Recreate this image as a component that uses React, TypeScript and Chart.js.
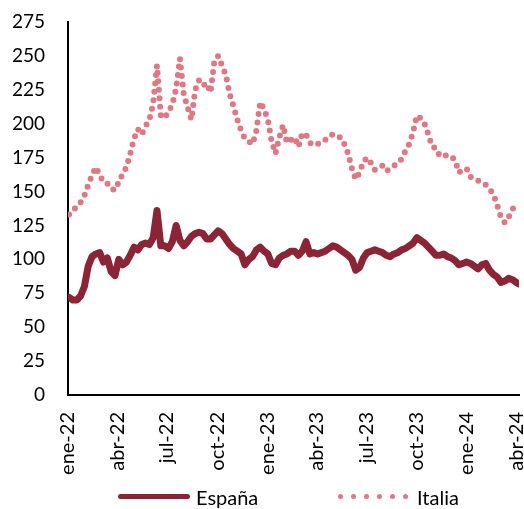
import React, { useEffect, useRef } from "react";
import { Chart, registerables } from "chart.js";

Chart.register(...registerables);

// Days counted from 2022-01-01; weekly observations starting Monday 2022-01-03
const firstDay = 2;
const stepDays = 7;
const lastDay = 825;

const espana = [
  72, 70, 70, 73, 80, 95, 102, 104, 105, 98,
  101, 91, 88, 100, 96, 98, 103, 109, 107, 111,
  112, 111, 116, 136, 110, 110, 108, 113, 125, 114,
  110, 113, 117, 119, 120, 119, 115, 115, 118, 121,
  119, 115, 111, 108, 106, 104, 96, 100, 102, 107,
  109, 106, 104, 97, 96, 101, 103, 104, 106, 106,
  103, 106, 113, 104, 105, 104, 105, 106, 108, 110,
  109, 107, 105, 103, 100, 92, 94, 101, 105, 106,
  107, 106, 105, 103, 102, 104, 105, 107, 108, 110,
  112, 116, 114, 112, 109, 106, 103, 103, 104, 102,
  101, 99, 96, 97, 98, 97, 95, 93, 96, 97,
  92, 89, 87, 83, 84, 86, 85, 83,
];
const espanaLast = 82;

const italia = [
  133, 136, 139, 142, 147, 155, 162, 168, 162, 157,
  156, 152, 151, 157, 163, 168, 178, 189, 196, 192,
  198, 203, 215, 243, 206, 204, 209, 214, 226, 248,
  222, 212, 203, 225, 232, 228, 230, 223, 246, 250,
  243, 236, 222, 213, 203, 195, 189, 187, 185, 195,
  216, 211, 203, 187, 178, 190, 199, 186, 188, 190,
  183, 193, 192, 186, 184, 185, 186, 188, 191, 192,
  190, 190, 185, 178, 167, 159, 164, 172, 175, 171,
  166, 168, 169, 165, 167, 169, 171, 174, 180, 185,
  194, 206, 204, 200, 192, 183, 182, 176, 176, 177,
  176, 173, 164, 166, 167, 161, 159, 158, 157, 155,
  152, 148, 140, 131, 127, 131, 137, 140,
];
const italiaLast = 138;

const tickDays = [0, 90, 181, 273, 365, 455, 546, 638, 730, 821];
const tickLabels = [
  "ene-22", "abr-22", "jul-22", "oct-22", "ene-23",
  "abr-23", "jul-23", "oct-23", "ene-24", "abr-24",
];

const yMax = 275;
const yStep = 25;

const COLOR_ES = "#8B2434";
const COLOR_IT = "#E07883";
const FONT = "Lato, 'Open Sans', sans-serif";

function toPoints(values: number[], last: number) {
  const pts = values.map((v, i) => ({ x: firstDay + stepDays * i, y: v }));
  pts.push({ x: lastDay, y: last });
  return pts;
}

export default function App() {
  const ref = useRef<HTMLCanvasElement | null>(null);

  useEffect(() => {
    if (!ref.current) return;
    const chart = new Chart(ref.current, {
      type: "line",
      data: {
        datasets: [
          {
            label: "España",
            data: toPoints(espana, espanaLast),
            borderColor: COLOR_ES,
            backgroundColor: COLOR_ES,
            borderWidth: 7,
            borderJoinStyle: "round",
            borderCapStyle: "round",
            pointRadius: 0,
            tension: 0,
          },
          {
            label: "Italia",
            data: toPoints(italia, italiaLast),
            borderColor: COLOR_IT,
            backgroundColor: COLOR_IT,
            borderWidth: 6,
            borderDash: [0, 8.5],
            borderCapStyle: "round",
            borderJoinStyle: "round",
            pointRadius: 0,
            tension: 0,
          },
        ],
      },
      options: {
        animation: false,
        responsive: false,
        devicePixelRatio: 1,
        layout: { padding: { top: 22, right: 5, bottom: 0, left: 0 } },
        plugins: {
          legend: { display: false },
          tooltip: { enabled: false },
        },
        scales: {
          x: {
            type: "linear",
            min: 0,
            max: lastDay + 1,
            grid: { display: false, drawTicks: false },
            border: { display: true, color: "#000", width: 2 },
            afterBuildTicks: (scale: any) => {
              scale.ticks = tickDays.map((d) => ({ value: d }));
            },
            afterFit: (scale: any) => {
              scale.height = 114;
              scale.paddingLeft = 0;
              scale.paddingRight = 0;
            },
            ticks: {
              autoSkip: false,
              minRotation: 90,
              maxRotation: 90,
              padding: 17,
              color: "#000",
              font: { family: FONT, size: 20 },
              callback: (_v: any, i: number) => tickLabels[i],
            },
          },
          y: {
            type: "linear",
            min: 0,
            max: yMax,
            grid: { display: false, drawTicks: false },
            border: { display: true, color: "#000", width: 2 },
            afterFit: (scale: any) => {
              scale.width = 68;
              scale.paddingTop = 0;
              scale.paddingBottom = 0;
            },
            ticks: {
              stepSize: yStep,
              padding: 23,
              color: "#000",
              font: { family: FONT, size: 19 },
            },
          },
        },
      } as any,
    });
    return () => chart.destroy();
  }, []);

  const dots = [0, 1, 2, 3, 4, 5];

  return (
    <div style={{ position: "absolute", left: 0, top: 0, width: 524, height: 509, background: "#fff" }}>
      <canvas ref={ref} width={524} height={509} style={{ width: 524, height: 509, display: "block" }} />
      <div
        style={{
          position: "absolute", left: 118, top: 494, width: 72, height: 5,
          background: COLOR_ES, borderRadius: 2.5,
        }}
      />
      <span
        style={{
          position: "absolute", left: 196, top: 484, fontFamily: FONT, fontSize: 20,
          lineHeight: "26px", color: "#000", whiteSpace: "nowrap",
        }}
      >
        España
      </span>
      {dots.map((k) => (
        <div
          key={k}
          style={{
            position: "absolute", left: 340 + 13 * k - 2.5, top: 494, width: 5, height: 5,
            borderRadius: "50%", background: COLOR_IT,
          }}
        />
      ))}
      <span
        style={{
          position: "absolute", left: 417, top: 484, fontFamily: FONT, fontSize: 20,
          lineHeight: "26px", color: "#000", whiteSpace: "nowrap",
        }}
      >
        Italia
      </span>
    </div>
  );
}
